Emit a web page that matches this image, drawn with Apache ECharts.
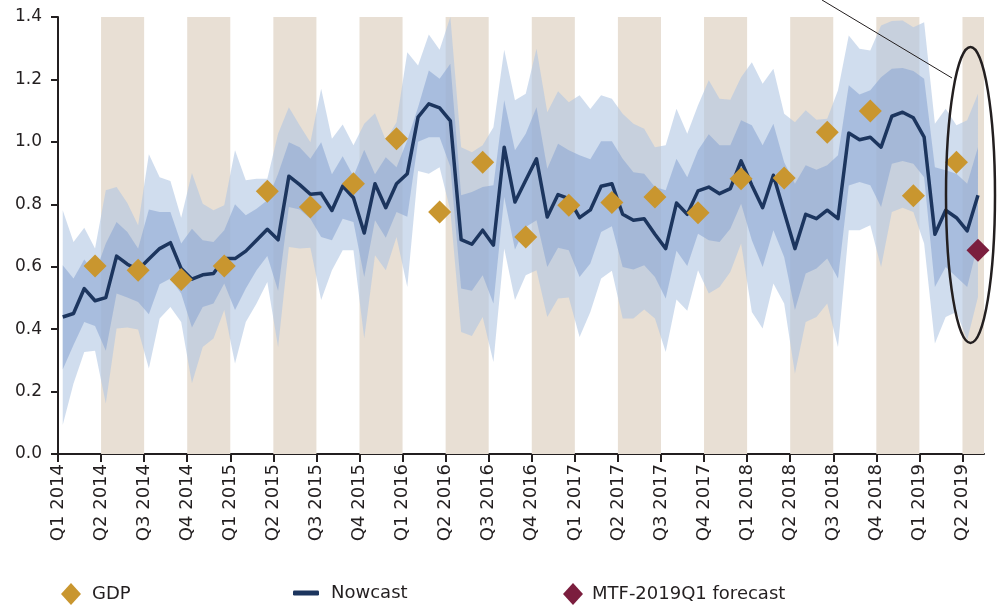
<!DOCTYPE html>
<html>
<head>
<meta charset="utf-8">
<script src="https://cdn.jsdelivr.net/npm/echarts@6/dist/echarts.min.js"></script>
<style>
  html, body { margin: 0; padding: 0; background: #fff; }
  #chart { width: 998px; height: 605px; }
</style>
</head>
<body>
<div id="chart"></div>
<script>
// Nowcast fan chart, Q1 2014 - Q2 2019

const quarterLabels = [
  'Q1 2014', 'Q2 2014', 'Q3 2014', 'Q4 2014',
  'Q1 2015', 'Q2 2015', 'Q3 2015', 'Q4 2015',
  'Q1 2016', 'Q2 2016', 'Q3 2016', 'Q4 2016',
  'Q1 2017', 'Q2 2017', 'Q3 2017', 'Q4 2017',
  'Q1 2018', 'Q2 2018', 'Q3 2018', 'Q4 2018',
  'Q1 2019', 'Q2 2019',
];
const shadedQuarters = [1, 3, 5, 7, 9, 11, 13, 15, 17, 19, 21];

// nowcast updates: 4 per quarter, first one a little after Q1 2014 start
const NOW_START = 0.11;
const NOW_STEP = 0.25;

const nowcast = [
  0.439, 0.450, 0.530, 0.491, 0.501, 0.634, 0.608, 0.590, 0.625, 0.658,
  0.677, 0.594, 0.560, 0.574, 0.578, 0.626, 0.626, 0.650, 0.685, 0.720,
  0.686, 0.890, 0.863, 0.832, 0.835, 0.780, 0.858, 0.821, 0.708, 0.866,
  0.789, 0.866, 0.898, 1.079, 1.122, 1.109, 1.067, 0.687, 0.672, 0.717,
  0.669, 0.983, 0.807, 0.877, 0.946, 0.759, 0.831, 0.818, 0.757, 0.782,
  0.858, 0.866, 0.768, 0.749, 0.754, 0.704, 0.658, 0.804, 0.768, 0.843,
  0.855, 0.834, 0.850, 0.939, 0.861, 0.789, 0.893, 0.775, 0.658, 0.768,
  0.754, 0.781, 0.754, 1.028, 1.007, 1.015, 0.983, 1.082, 1.095, 1.077,
  1.015, 0.704, 0.781, 0.757, 0.715, 0.829,
];
const outerUpper = [
  0.781, 0.679, 0.725, 0.658, 0.845, 0.855, 0.804, 0.733, 0.960, 0.887,
  0.875, 0.757, 0.900, 0.802, 0.781, 0.797, 0.973, 0.877, 0.882, 0.882,
  1.026, 1.111, 1.053, 0.999, 1.170, 1.010, 1.056, 0.989, 1.058, 1.092,
  1.005, 1.063, 1.287, 1.245, 1.344, 1.295, 1.400, 0.983, 0.967, 0.989,
  1.047, 1.295, 1.133, 1.154, 1.298, 1.095, 1.162, 1.127, 1.149, 1.105,
  1.149, 1.138, 1.090, 1.058, 1.042, 0.983, 0.989, 1.106, 1.026, 1.117,
  1.197, 1.138, 1.135, 1.207, 1.255, 1.186, 1.234, 1.090, 1.063, 1.101,
  1.071, 1.074, 1.165, 1.341, 1.298, 1.293, 1.373, 1.387, 1.389, 1.367,
  1.383, 1.058, 1.106, 1.053, 1.069, 1.154,
];
const innerUpper = [
  0.605, 0.562, 0.623, 0.578, 0.674, 0.743, 0.711, 0.658, 0.783, 0.775,
  0.775, 0.674, 0.722, 0.685, 0.679, 0.717, 0.800, 0.765, 0.786, 0.813,
  0.898, 0.999, 0.983, 0.946, 0.999, 0.896, 0.954, 0.890, 0.975, 0.896,
  0.951, 0.919, 1.005, 1.111, 1.229, 1.202, 1.250, 0.829, 0.839, 0.855,
  0.861, 1.133, 0.973, 1.026, 1.111, 0.914, 0.994, 0.973, 0.957, 0.944,
  1.002, 1.002, 0.946, 0.903, 0.898, 0.855, 0.845, 0.946, 0.887, 0.973,
  1.024, 0.989, 0.989, 1.069, 1.053, 0.989, 1.058, 0.935, 0.866, 0.925,
  0.911, 0.925, 0.957, 1.181, 1.152, 1.165, 1.207, 1.234, 1.237, 1.227,
  1.202, 0.919, 0.909, 0.898, 0.866, 0.983,
];
const innerLower = [
  0.271, 0.349, 0.423, 0.410, 0.331, 0.514, 0.501, 0.487, 0.448, 0.544,
  0.562, 0.514, 0.405, 0.471, 0.482, 0.546, 0.461, 0.530, 0.589, 0.634,
  0.523, 0.791, 0.783, 0.754, 0.695, 0.685, 0.754, 0.743, 0.567, 0.749,
  0.693, 0.775, 0.760, 1.000, 1.015, 1.015, 0.920, 0.530, 0.523, 0.573,
  0.482, 0.823, 0.655, 0.727, 0.749, 0.599, 0.661, 0.653, 0.567, 0.610,
  0.711, 0.730, 0.599, 0.591, 0.605, 0.567, 0.498, 0.651, 0.602, 0.706,
  0.685, 0.679, 0.722, 0.802, 0.685, 0.599, 0.717, 0.631, 0.461, 0.578,
  0.594, 0.626, 0.562, 0.860, 0.871, 0.861, 0.791, 0.930, 0.939, 0.930,
  0.887, 0.535, 0.599, 0.567, 0.535, 0.674,
];
const outerLower = [
  0.093, 0.226, 0.327, 0.331, 0.162, 0.402, 0.405, 0.399, 0.274, 0.434,
  0.471, 0.423, 0.227, 0.343, 0.370, 0.461, 0.290, 0.423, 0.482, 0.551,
  0.343, 0.663, 0.658, 0.661, 0.493, 0.589, 0.653, 0.653, 0.370, 0.637,
  0.589, 0.695, 0.535, 0.907, 0.898, 0.919, 0.780, 0.391, 0.378, 0.439,
  0.295, 0.658, 0.493, 0.573, 0.589, 0.439, 0.498, 0.501, 0.375, 0.455,
  0.562, 0.587, 0.434, 0.434, 0.463, 0.434, 0.327, 0.495, 0.459, 0.589,
  0.514, 0.535, 0.583, 0.674, 0.455, 0.402, 0.546, 0.482, 0.258, 0.423,
  0.439, 0.482, 0.343, 0.717, 0.717, 0.733, 0.599, 0.775, 0.789, 0.775,
  0.674, 0.354, 0.439, 0.455, 0.365, 0.503,
];
// GDP, one per quarter Q1 2014 .. Q1 2019 (plotted at the 4th update of the quarter)
const gdp = [
  0.602, 0.589, 0.559, 0.602, 0.842, 0.791, 0.866, 1.010, 0.775, 0.935,
  0.695, 0.797, 0.806, 0.823, 0.773, 0.882, 0.884, 1.031, 1.099, 0.827,
  0.935,
];
const mtfForecast = 0.653;

const X_MAX = 21.5;
const INK = '#231f20';
const FONT = 'DejaVu Sans';

const nowX = (k) => NOW_START + NOW_STEP * k;

function fanSeries(name, upper, lower, color) {
  return {
    type: 'custom',
    name,
    silent: true,
    clip: true,
    z: 2,
    data: [0],
    renderItem: (params, api) => {
      const pts = [];
      upper.forEach((v, k) => pts.push(api.coord([nowX(k), v])));
      for (let k = lower.length - 1; k >= 0; k--) pts.push(api.coord([nowX(k), lower[k]]));
      return { type: 'polygon', shape: { points: pts }, style: { fill: color } };
    },
  };
}

const chart = echarts.init(document.getElementById('chart'), null, { renderer: 'canvas' });

chart.setOption({
  animation: false,
  backgroundColor: '#fff',
  grid: { left: 58, right: 14, top: 17, bottom: 151 },
  xAxis: {
    type: 'value',
    min: 0,
    max: X_MAX,
    interval: 1,
    splitLine: { show: false },
    axisLine: { lineStyle: { color: INK, width: 2 } },
    axisTick: {
      customValues: quarterLabels.map((_, i) => i),
      length: 8,
      lineStyle: { color: INK, width: 2 },
    },
    axisLabel: {
      customValues: quarterLabels.map((_, i) => i),
      formatter: (v) => quarterLabels[Math.round(v)] || '',
      rotate: 90,
      margin: 10,
      color: INK,
      fontFamily: FONT,
      fontSize: 18,
    },
  },
  yAxis: {
    type: 'value',
    min: 0,
    max: 1.4,
    interval: 0.2,
    splitLine: { show: false },
    axisLine: { show: true, lineStyle: { color: INK, width: 2 } },
    axisTick: { show: true, length: 7, lineStyle: { color: INK, width: 2 } },
    axisLabel: {
      formatter: (v) => v.toFixed(1),
      margin: 16,
      color: INK,
      fontFamily: FONT,
      fontSize: 17,
    },
  },
  legend: [
    {
      left: 56, top: 578, itemWidth: 20, itemHeight: 22,
      data: [{ name: 'GDP', icon: 'diamond' }],
      textStyle: { color: INK, fontFamily: FONT, fontSize: 18, padding: [0, 0, 0, 6] },
    },
    {
      left: 288, top: 579, itemWidth: 26, itemHeight: 5,
      data: [{ name: 'Nowcast', icon: 'roundRect' }],
      textStyle: { color: INK, fontFamily: FONT, fontSize: 18, padding: [0, 0, 0, 7] },
    },
    {
      left: 558, top: 578, itemWidth: 20, itemHeight: 22,
      data: [{ name: 'MTF-2019Q1 forecast', icon: 'diamond' }],
      textStyle: { color: INK, fontFamily: FONT, fontSize: 18, padding: [0, 0, 0, 4] },
    },
  ],
  series: [
    {
      type: 'custom',
      name: 'shade',
      silent: true,
      clip: true,
      z: 1,
      data: shadedQuarters,
      renderItem: (params, api) => {
        const q = api.value(0);
        const p0 = api.coord([q, 1.4]);
        const p1 = api.coord([Math.min(q + 1, X_MAX), 0]);
        return {
          type: 'rect',
          shape: { x: p0[0], y: p0[1], width: p1[0] - p0[0], height: p1[1] - p0[1] },
          style: { fill: '#e8dfd4' },
        };
      },
    },
    fanSeries('outer', outerUpper, outerLower, 'rgba(177,198,227,0.6)'),
    fanSeries('inner', innerUpper, innerLower, 'rgba(141,169,211,0.6)'),
    {
      type: 'line',
      name: 'Nowcast',
      z: 3,
      data: nowcast.map((v, k) => [nowX(k), v]),
      showSymbol: false,
      color: '#1c355e',
      lineStyle: { color: '#1c355e', width: 3.5, join: 'round' },
    },
    {
      type: 'scatter',
      name: 'GDP',
      z: 4,
      symbol: 'diamond',
      symbolSize: 23,
      itemStyle: { color: '#c9962f', opacity: 1 },
      data: gdp.map((v, q) => [nowX(4 * q + 3), v]),
    },
    {
      type: 'scatter',
      name: 'MTF-2019Q1 forecast',
      z: 4,
      symbol: 'diamond',
      symbolSize: 23,
      itemStyle: { color: '#7b1e3e', opacity: 1 },
      data: [[nowX(nowcast.length - 1), mtfForecast]],
    },
  ],
  graphic: [
    {
      type: 'line', z: 10, silent: true,
      shape: { x1: 822, y1: 0, x2: 952, y2: 78 },
      style: { stroke: INK, lineWidth: 1 },
    },
    {
      type: 'ellipse', z: 10, silent: true,
      shape: { cx: 970.5, cy: 195, rx: 24.5, ry: 148 },
      style: { fill: 'transparent', stroke: INK, lineWidth: 2.5 },
    },
  ],
});
</script>
</body>
</html>
